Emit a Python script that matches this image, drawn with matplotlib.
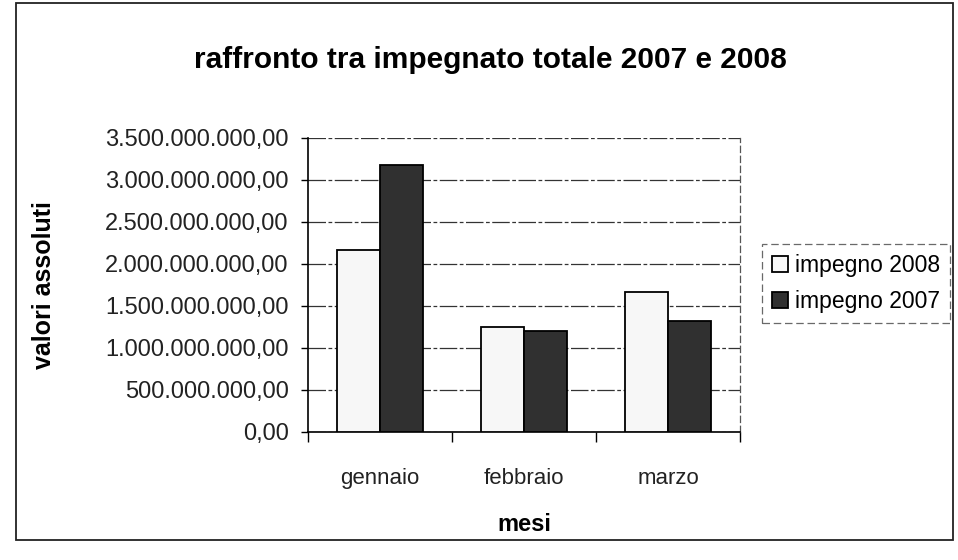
import numpy as np
import matplotlib.pyplot as plt
from matplotlib.patches import Rectangle

months = ["gennaio", "febbraio", "marzo"]
impegno_2008 = [2.17e9, 1.25e9, 1.67e9]
impegno_2007 = [3.18e9, 1.20e9, 1.32e9]
y_ticks = [0, 0.5e9, 1.0e9, 1.5e9, 2.0e9, 2.5e9, 3.0e9, 3.5e9]


def it_format(v):
    s = f"{v:,.2f}"
    return s.replace(",", "X").replace(".", ",").replace("X", ".")


plt.rcParams['font.family'] = ['Liberation Sans', 'DejaVu Sans']

fig = plt.figure(figsize=(9.58, 5.6), dpi=100)
ax = fig.add_axes([0.3215, 0.2286, 0.451, 0.525])

x = np.arange(len(months))
w = 0.3
ax.bar(x - w / 2, impegno_2008, w, color='#f7f7f7', edgecolor='black',
       linewidth=1.3, label='impegno 2008', zorder=3)
ax.bar(x + w / 2, impegno_2007, w, color='#303030', edgecolor='black',
       linewidth=1.3, label='impegno 2007', zorder=3)

ax.set_xlim(-0.5, 2.5)
ax.set_ylim(0, 3.5e9)
ax.set_yticks(y_ticks)
ax.set_yticklabels([it_format(v) for v in y_ticks], fontsize=17, color='#222222')
ax.set_xticks(x)
ax.set_xticklabels(months, fontsize=16, color='#222222')
ax.set_xticks([-0.5, 0.5, 1.5, 2.5], minor=True)
ax.tick_params(axis='x', which='major', length=0, pad=26)
ax.tick_params(axis='x', which='minor', length=7, width=1)
ax.tick_params(axis='y', length=5, width=1, pad=9)

ax.yaxis.grid(True, color='#333333', linewidth=0.9, linestyle=(0, (14, 2, 3, 2)), zorder=0)
ax.spines['right'].set_linestyle((0, (5, 3)))
ax.spines['right'].set_color('#555555')
ax.spines['right'].set_linewidth(0.9)
ax.spines['top'].set_visible(False)
ax.spines['left'].set_linewidth(1.2)
ax.spines['bottom'].set_linewidth(1.2)

ax.set_ylabel('valori assoluti', fontsize=18, fontweight='bold')
ax.yaxis.set_label_coords(-0.583, 0.5)
ax.set_xlabel('mesi', fontsize=17, fontweight='bold')
ax.xaxis.set_label_coords(0.5, -0.276)
fig.text(0.512, 0.893, 'raffronto tra impegnato totale 2007 e 2008',
         fontsize=21.5, fontweight='bold', ha='center', va='center')

leg = ax.legend(loc='center left', bbox_to_anchor=(1.05, 0.505), fontsize=16.5,
                frameon=True, fancybox=False, handlelength=0.7, handleheight=0.7,
                handletextpad=0.3, borderpad=0.45, labelspacing=0.55, borderaxespad=0)
leg.get_frame().set_edgecolor('#444444')
leg.get_frame().set_linestyle((0, (6, 3)))
leg.get_frame().set_linewidth(0.9)

# outer chart frame
fig.patches.append(Rectangle((0.017, 0.036), 0.978, 0.958, transform=fig.transFigure,
                             fill=False, edgecolor='#222222', linewidth=1.3))

fig.savefig('out.png', dpi=100)
